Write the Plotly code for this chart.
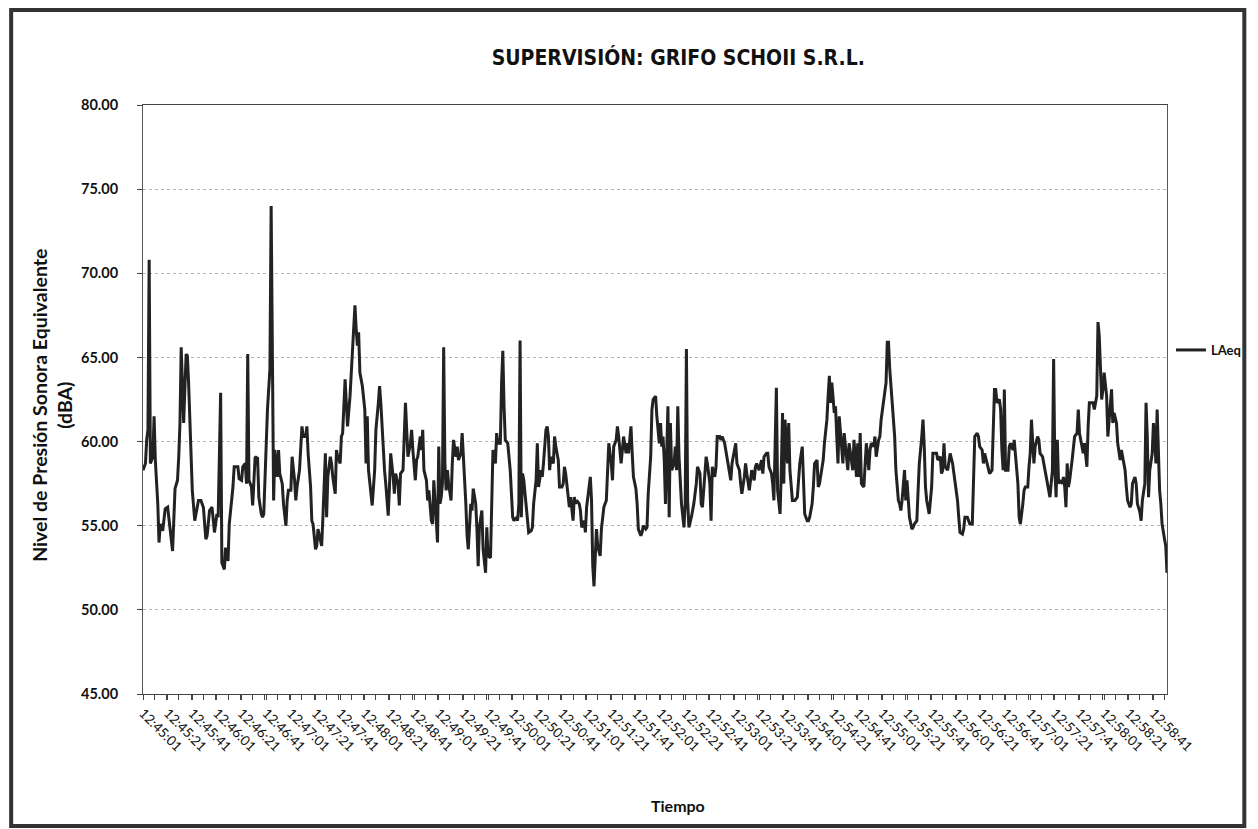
import plotly.graph_objects as go
import pandas as pd

# ---------------- data ----------------
START = "2024-01-01 12:45:01"          # first sample, 12:45:01
END = "2024-01-01 12:58:52"            # last sample

# seconds after 12:45:01 and LAeq (dBA), grouped by stretch of the record
seg1_s = [0, 2, 3, 4, 5, 6, 8, 9, 10, 12, 13, 14, 16, 18, 20, 22, 23, 24, 26, 28,
          29, 30, 31, 32, 33, 35, 36, 37, 39, 40, 42, 44, 45, 47, 49, 51, 52, 54, 56, 58,
          60, 61, 63, 64, 66, 67, 69, 70, 73, 74, 77, 78, 80, 81, 83, 84, 85, 86, 88, 89,
          91, 93, 94, 96, 97]
seg1_db = [58.3, 58.7, 60.1, 60.7, 70.8, 58.7, 59.1, 61.5, 58.9, 56.3, 54.0, 55.1, 54.7, 56.0, 56.1,
           54.7, 53.9, 53.5, 57.2, 57.7, 59.1, 61.1, 65.6, 62.7, 61.1, 65.2, 65.1, 63.5, 59.3, 57.1,
           55.3, 56.3, 56.5, 56.5, 56.1, 54.2, 54.4, 55.9, 56.1, 54.6, 55.7, 55.5, 62.9, 52.8, 52.4,
           53.7, 52.9, 55.1, 57.3, 58.5, 58.5, 57.8, 57.7, 58.5, 58.7, 57.5, 65.2, 57.7, 57.3, 56.2,
           59.1, 59.0, 56.7, 55.7, 55.5]

seg2_s = [98, 101, 103, 104, 106, 107, 109, 110, 111, 113, 114, 116, 117, 118, 120, 121, 123, 124, 125, 127,
          129, 130, 132, 133, 134, 136, 137, 138, 140, 141, 142, 144, 145, 146, 148, 149, 150, 152, 153, 154,
          156, 157, 158, 160, 161, 162, 164, 165, 166, 168, 169, 170, 172, 173, 174, 175, 176, 178, 179, 180,
          181, 182, 183, 185, 186, 188, 189, 191, 192, 193, 195, 196, 197]
seg2_db = [55.7, 61.9, 64.3, 74.0, 56.5, 59.5, 57.9, 59.5, 58.1, 57.5, 56.3, 55.0, 56.5, 57.1, 57.1,
           59.1, 57.7, 56.5, 57.3, 58.3, 60.9, 60.3, 60.3, 60.9, 59.3, 57.3, 55.3, 55.1, 53.6, 53.8,
           54.8, 54.0, 53.8, 55.5, 59.3, 55.5, 57.9, 59.1, 58.7, 57.9, 56.9, 59.5, 59.1, 58.7, 60.3,
           60.5, 63.7, 62.3, 60.9, 62.7, 64.1, 65.9, 68.1, 66.7, 65.7, 66.5, 64.1, 63.3, 62.7, 61.9,
           58.7, 61.5, 58.3, 56.9, 56.2, 58.3, 60.7, 62.3, 63.3, 62.3, 59.1, 58.3, 57.5]

seg3_s = [199, 200, 201, 203, 204, 205, 207, 208, 209, 211, 212, 213, 214, 215, 217, 218, 219, 221, 222, 223,
          225, 226, 227, 228, 230, 231, 232, 234, 235, 236, 238, 239, 240, 241, 242, 243, 244, 245, 246, 247,
          248, 250, 251, 252, 254, 255, 256, 258, 259, 260, 262, 263, 264, 266, 267, 268, 270, 271, 272, 273,
          275, 276, 278, 279, 280, 282, 283, 284, 286, 287, 288, 290, 291, 292, 293, 294, 296, 297, 298]
seg3_db = [55.6, 57.3, 59.3, 57.9, 56.9, 58.1, 57.5, 56.2, 58.1, 58.3, 60.7, 62.3, 60.7, 59.1, 59.9,
           60.7, 59.5, 57.7, 58.9, 59.1, 60.3, 59.5, 60.7, 58.3, 57.7, 56.5, 57.1, 55.3, 55.1, 57.7,
           55.3, 54.0, 59.7, 56.3, 56.7, 57.5, 65.6, 58.7, 57.1, 58.3, 57.5, 56.5, 58.7, 60.1, 59.1,
           59.7, 58.9, 59.3, 60.5, 59.3, 56.3, 54.4, 53.6, 56.3, 55.9, 57.2, 56.3, 54.8, 52.6, 54.9,
           55.9, 53.6, 52.2, 54.9, 53.2, 53.1, 56.1, 59.5, 58.7, 60.5, 59.9, 59.9, 63.5, 65.4, 62.1,
           60.1, 59.9, 58.9, 58.3]

seg4_s = [300, 301, 303, 304, 305, 306, 307, 308, 309, 311, 312, 313, 315, 316, 317, 319, 320, 321, 323, 324,
          325, 327, 328, 329, 330, 331, 333, 334, 335, 337, 338, 340, 341, 342, 343, 345, 346, 347, 349, 350,
          351, 352, 354, 355, 356, 358, 359, 360, 362, 363, 364, 365, 366, 367, 368, 369, 371, 372, 373, 374,
          376, 377, 378, 380, 381, 382, 384, 385, 386, 388, 389, 390, 392, 393, 394, 396, 397, 398]
seg4_db = [55.5, 55.3, 55.5, 55.3, 56.3, 66.0, 55.5, 58.1, 57.7, 55.9, 55.5, 54.6, 54.7, 54.9, 56.3,
           57.7, 59.9, 57.3, 58.3, 57.9, 58.7, 60.7, 60.9, 60.3, 58.3, 59.1, 58.7, 60.3, 59.7, 58.9,
           57.3, 57.3, 57.5, 58.5, 58.1, 56.7, 56.1, 56.7, 55.3, 56.7, 56.3, 56.5, 56.3, 55.9, 54.9,
           55.3, 54.6, 56.1, 57.1, 57.9, 56.5, 52.6, 51.4, 52.8, 54.8, 53.8, 53.2, 54.8, 55.3, 56.1,
           56.5, 58.3, 59.9, 58.7, 57.7, 59.7, 60.1, 60.9, 60.3, 58.7, 59.7, 60.3, 59.3, 59.9, 59.3,
           60.9, 59.3, 57.9]

seg5_s = [400, 401, 402, 404, 405, 406, 408, 409, 410, 412, 413, 414, 416, 417, 419, 420, 421, 422, 423, 424,
          425, 426, 427, 428, 429, 431, 432, 433, 434, 435, 437, 438, 439, 440, 441, 442, 443, 445, 446, 447,
          449, 450, 452, 453, 454, 455, 457, 458, 460, 461, 462, 464, 465, 466, 468, 469, 470, 472, 473, 474,
          476, 477, 478, 480, 481, 482, 484, 485, 486, 488, 489, 490, 492, 493, 494, 496, 497, 498]
seg5_db = [57.2, 56.3, 54.8, 54.4, 54.6, 55.0, 54.8, 54.9, 56.9, 59.1, 61.9, 62.5, 62.7, 61.5, 59.9,
           61.1, 59.7, 60.3, 58.9, 56.3, 59.3, 62.1, 55.5, 61.1, 58.3, 58.7, 59.7, 58.3, 62.1, 59.1,
           56.3, 55.5, 54.9, 56.3, 65.5, 56.5, 54.9, 55.5, 55.9, 56.3, 57.5, 58.5, 58.1, 56.3, 56.1,
           57.1, 59.1, 58.7, 57.5, 55.3, 58.5, 57.9, 58.5, 60.3, 60.3, 60.1, 60.3, 59.9, 59.5, 58.9,
           58.1, 57.7, 58.7, 59.7, 59.9, 58.7, 58.3, 57.5, 56.9, 57.9, 58.7, 58.1, 57.1, 57.7, 58.3,
           57.7, 58.5, 58.7]

seg6_s = [500, 502, 503, 504, 506, 507, 508, 510, 511, 512, 514, 515, 516, 517, 518, 519, 520, 521, 523, 524,
          525, 527, 528, 529, 531, 532, 533, 535, 536, 537, 539, 540, 541, 543, 544, 545, 547, 548, 549, 551,
          552, 553, 555, 556, 557, 558, 559, 561, 562, 563, 564, 565, 567, 568, 569, 571, 572, 573, 575, 576,
          577, 579, 580, 581, 582, 583, 585, 586, 587, 589, 590, 591, 593, 594, 595, 597, 598, 599, 601, 602]
seg6_db = [58.3, 58.9, 58.1, 59.1, 59.3, 59.3, 58.5, 58.1, 57.5, 56.5, 63.2, 57.1, 56.3, 55.7, 58.3,
           61.7, 57.5, 61.3, 58.7, 61.1, 58.3, 56.5, 56.5, 56.5, 56.7, 57.7, 58.7, 59.7, 57.3, 55.7,
           55.3, 55.3, 55.5, 56.3, 57.3, 58.7, 58.9, 57.3, 57.5, 58.3, 58.9, 59.9, 61.3, 62.7, 63.9,
           62.3, 63.5, 61.7, 62.1, 60.3, 58.7, 61.5, 59.7, 58.7, 60.5, 59.1, 58.3, 59.9, 58.7, 58.3,
           60.1, 57.9, 59.9, 57.9, 60.5, 57.5, 57.3, 58.3, 59.9, 58.3, 59.5, 59.9, 59.7, 60.3, 59.1,
           60.1, 60.3, 61.3, 62.5, 63.1]

seg7_s = [603, 604, 605, 606, 607, 608, 610, 611, 613, 614, 615, 616, 618, 619, 620, 621, 622, 624, 625, 626,
          628, 629, 630, 632, 633, 634, 635, 636, 638, 639, 640, 641, 642, 644, 645, 647, 648, 649, 650, 651,
          653, 654, 655, 657, 658, 659, 661, 662, 663, 665, 666, 667, 669, 670, 671, 673, 674, 675, 677, 678,
          679, 681, 682, 683, 685, 686, 687, 689, 690, 691, 692, 693, 695, 696, 697, 698, 699, 700]
seg7_db = [63.5, 65.9, 65.9, 64.3, 63.5, 62.3, 60.3, 58.3, 56.5, 56.3, 55.9, 56.5, 58.3, 56.5, 57.7,
           56.7, 55.5, 54.8, 54.9, 55.1, 55.3, 57.1, 58.7, 60.3, 61.3, 59.7, 57.3, 56.5, 55.7, 56.5,
           57.3, 59.3, 59.3, 59.3, 58.9, 59.1, 58.1, 58.3, 59.9, 58.5, 58.3, 58.9, 59.3, 58.7, 58.1,
           57.7, 56.5, 55.5, 54.6, 54.5, 54.8, 55.5, 55.5, 55.3, 55.1, 55.1, 58.7, 60.3, 60.5, 60.3,
           59.7, 59.5, 58.7, 59.3, 58.7, 58.3, 58.1, 58.3, 61.1, 63.1, 63.1, 62.3, 62.5, 61.9, 59.5,
           58.3, 63.1, 58.3]

seg8_s = [702, 703, 704, 706, 707, 708, 710, 711, 712, 714, 715, 716, 718, 719, 720, 721, 722, 723, 724, 726,
          727, 728, 730, 731, 732, 734, 735, 736, 738, 739, 740, 741, 742, 743, 744, 746, 747, 748, 749, 750,
          751, 752, 754, 755, 756, 758, 759, 760, 762, 763, 764, 766, 767, 768, 770, 771, 772, 774, 775, 776,
          778, 779, 780, 782, 783, 784, 785, 786, 787, 788, 790, 791, 793, 794, 795, 797, 798, 799, 801, 802,
          803, 805, 806, 807, 809, 810, 811, 813, 814, 815, 816, 817, 819, 820, 821, 822, 823, 825, 826, 827,
          829, 830, 831]
seg8_db = [58.3, 59.7, 59.9, 59.5, 60.1, 59.1, 57.5, 55.5, 55.1, 56.3, 57.1, 57.3, 57.3, 58.5, 59.3,
           61.3, 59.7, 58.7, 59.7, 60.3, 60.1, 59.3, 59.1, 58.7, 58.3, 57.5, 56.9, 56.7, 58.3, 64.9,
           58.3, 56.7, 60.1, 57.5, 57.7, 57.5, 57.9, 57.3, 56.1, 58.7, 57.3, 57.7, 58.9, 59.7, 60.3,
           60.5, 61.9, 60.5, 59.7, 59.3, 59.9, 58.5, 60.9, 62.3, 62.3, 62.3, 61.9, 62.7, 67.1, 66.3,
           62.5, 63.1, 64.1, 62.7, 60.3, 61.3, 62.3, 63.1, 61.1, 61.7, 61.1, 59.9, 58.9, 59.5, 59.1,
           58.3, 57.3, 56.5, 56.1, 56.3, 57.5, 57.9, 57.5, 56.3, 55.8, 55.3, 56.5, 57.5, 62.3, 60.3,
           56.7, 58.3, 59.3, 61.1, 60.3, 58.7, 61.9, 57.1, 56.3, 55.1, 54.2, 53.8, 52.2]

segments = [(seg1_s, seg1_db), (seg2_s, seg2_db), (seg3_s, seg3_db), (seg4_s, seg4_db),
            (seg5_s, seg5_db), (seg6_s, seg6_db), (seg7_s, seg7_db), (seg8_s, seg8_db)]

Y_TICKS = [45, 50, 55, 60, 65, 70, 75, 80]

TITLE = "SUPERVISIÓN: GRIFO SCHOII S.R.L."
Y_TITLE = "Nivel de Presión Sonora Equivalente<br>(dBA)"
X_TITLE = "Tiempo"
SERIES = "LAeq"

# ---------------- build ----------------
offsets, laeq = [], []
for s, v in segments:
    assert len(s) == len(v), (len(s), len(v))
    offsets += s
    laeq += v

times = pd.Timestamp(START) + pd.to_timedelta(offsets, unit="s")

INK = "#1c1c1c"
BODY = "Lato, 'Open Sans', sans-serif"
NARROW = "'Liberation Sans Narrow', 'Arial Narrow', 'DejaVu Sans Condensed', sans-serif"

# the page puts the figure 8 px in from the window corner
OFF = 8
W, H = 1258 - OFF, 829 - OFF
# plot area in window pixels: x 143..1176, y 105..694
PL, PR, PT, PB = 143, 1176, 105, 694
L, R, T, B = PL - OFF, W - (PR - OFF), PT - OFF, H - (PB - OFF)
pw, ph = PR - PL, PB - PT


def px(xw):
    return (xw - PL) / pw


def py(yw):
    return (PB - yw) / ph


fig = go.Figure()
fig.add_trace(go.Scatter(
    x=times, y=laeq, mode="lines", name=SERIES,
    line=dict(color="#222222", width=3),
))

fig.update_layout(
    width=W, height=H,
    margin=dict(l=L, r=R, t=T, b=B),
    paper_bgcolor="white", plot_bgcolor="white",
    font=dict(family=BODY, color=INK),
    title=dict(text=TITLE, xref="paper", x=px(683), xanchor="center",
               yref="container", y=1 - (58 - OFF) / H, yanchor="middle",
               font=dict(family=NARROW, size=21, color="#111", weight="bold")),
    showlegend=True,
    legend=dict(x=px(1180), xanchor="left", y=py(350), yanchor="middle",
                font=dict(family=BODY, size=13, color="#111", weight="bold"),
                bgcolor="rgba(0,0,0,0)", itemwidth=30, tracegroupgap=0),
)

fig.update_xaxes(
    type="date",
    range=[START, END],
    tick0=START, dtick=20000, tickformat="%H:%M:%S",
    tickangle=45,
    tickfont=dict(family=BODY, size=13.5, color="#111"),
    ticks="outside", ticklen=5, tickcolor="#444",
    minor=dict(dtick=10000, ticks="outside", ticklen=5, tickcolor="#444", showgrid=False),
    showline=True, linecolor="#444", linewidth=1, mirror=True,
    showgrid=False, zeroline=False,
)
fig.update_yaxes(
    range=[45, 80], tickvals=Y_TICKS, tickformat=".2f",
    tickfont=dict(family=BODY, size=14.5, color="#111", weight="bold"),
    ticks="outside", ticklen=5, tickcolor="#444",
    ticklabelstandoff=16,
    showline=True, linecolor="#555", linewidth=1, mirror=True,
    showgrid=True, gridcolor="#b4b4b4", gridwidth=1, griddash="dot",
    zeroline=False,
)

fig.add_annotation(text=Y_TITLE, xref="paper", yref="paper", x=px(51), y=py(405),
                   textangle=-90, showarrow=False, xanchor="center", yanchor="middle",
                   font=dict(family=BODY, size=19.5, color="#111", weight="bold"))
fig.add_annotation(text=X_TITLE, xref="paper", yref="paper", x=px(683), y=py(805),
                   showarrow=False, xanchor="center", yanchor="middle",
                   font=dict(family=BODY, size=16, color="#111", weight="bold"))

# outer chart frame (as far out as the page allows)
fig.add_shape(type="rect", xref="paper", yref="paper",
              x0=px(OFF + 2), x1=px(1254), y0=py(826), y1=py(OFF + 2),
              line=dict(color="#333", width=4), fillcolor="rgba(0,0,0,0)", layer="above")

fig.write_html("out.html")
